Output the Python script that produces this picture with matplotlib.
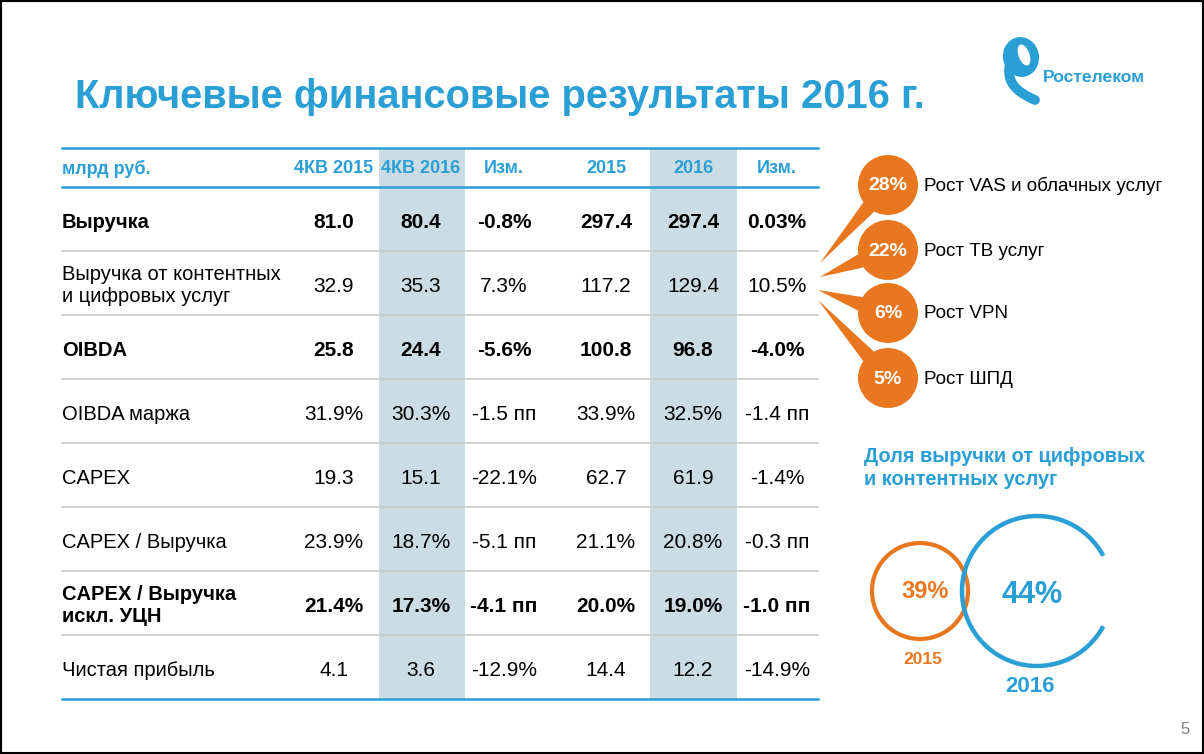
import numpy as np
import matplotlib
matplotlib.use('Agg')
import matplotlib.pyplot as plt
from matplotlib.patches import Circle, Arc, Polygon, Rectangle, Ellipse

plt.rcParams['font.family'] = ['Liberation Sans', 'DejaVu Sans']

# table data
row_labels = ['Выручка', 'Выручка от контентных\nи цифровых услуг', 'OIBDA', 'OIBDA маржа',
              'CAPEX', 'CAPEX / Выручка', 'CAPEX / Выручка\nискл. УЦН', 'Чистая прибыль']
bold_rows = [True, False, True, False, False, False, True, False]
col_headers = ['4КВ 2015', '4КВ 2016', 'Изм.', '2015', '2016', 'Изм.']
q4_2015 = ['81.0', '32.9', '25.8', '31.9%', '19.3', '23.9%', '21.4%', '4.1']
q4_2016 = ['80.4', '35.3', '24.4', '30.3%', '15.1', '18.7%', '17.3%', '3.6']
q4_change = ['-0.8%', '7.3%', '-5.6%', '-1.5 пп', '-22.1%', '-5.1 пп', '-4.1 пп', '-12.9%']
fy_2015 = ['297.4', '117.2', '100.8', '33.9%', '62.7', '21.1%', '20.0%', '14.4']
fy_2016 = ['297.4', '129.4', '96.8', '32.5%', '61.9', '20.8%', '19.0%', '12.2']
fy_change = ['0.03%', '10.5%', '-4.0%', '-1.4 пп', '-1.4%', '-0.3 пп', '-1.0 пп', '-14.9%']

# growth bubbles
growth_pct = [28, 22, 6, 5]
growth_labels = ['Рост VAS и облачных услуг', 'Рост ТВ услуг', 'Рост VPN', 'Рост ШПД']

# share of digital revenue
share_years = [2015, 2016]
share_pct = [39, 44]

BLUE = '#2a9fd6'
ORANGE = '#e8771f'
SHADE = '#cbdce4'
GRAY_LINE = '#c8c8c8'

fig = plt.figure(figsize=(12.04, 7.54), dpi=100)
ax = fig.add_axes([0, 0, 1, 1])
ax.set_xlim(0, 1204)
ax.set_ylim(754, 0)
ax.axis('off')

# frame
ax.add_patch(Rectangle((1, 1), 1202, 752, fill=False, ec='black', lw=1.5))

# title
ax.text(75, 97, 'Ключевые финансовые результаты 2016 г.', color=BLUE, fontsize=28.7,
        fontweight='bold', ha='left', va='center')

# logo
ax.add_patch(Ellipse((1021, 57), 36, 40, angle=-10, color=BLUE, lw=0))
ax.add_patch(Ellipse((1024, 55), 11, 22, angle=-20, color='white', lw=0))
t = np.linspace(0, 1, 30)
ax.plot(1009 + 26 * t ** 1.4, 68 + 32 * np.sqrt(t), color=BLUE, lw=7, solid_capstyle='round')
ax.text(1043, 77, 'Ростелеком', color=BLUE, fontsize=12.6, fontweight='bold', ha='left', va='center')

# table
col_x = [334, 421, 504, 606, 693, 777]
shade_cols = [(379, 465), (650, 737)]
table_top, header_bottom, table_bottom = 148, 187, 699
row_h = (table_bottom - header_bottom) / len(row_labels)

for x0, x1 in shade_cols:
    ax.add_patch(Rectangle((x0, table_top), x1 - x0, table_bottom - table_top, color=SHADE, lw=0))

ax.plot([62, 818], [table_top, table_top], color=BLUE, lw=1.8)
ax.plot([62, 818], [header_bottom, header_bottom], color=BLUE, lw=1.8)
ax.plot([62, 818], [table_bottom, table_bottom], color=BLUE, lw=1.8)
for i in range(1, len(row_labels)):
    y = header_bottom + i * row_h
    ax.plot([62, 818], [y, y], color=GRAY_LINE, lw=1.2)

hy = (table_top + header_bottom) / 2 + 1
ax.text(62, hy, 'млрд руб.', color=BLUE, fontsize=13, fontweight='bold', ha='left', va='center')
for x, h in zip(col_x, col_headers):
    ax.text(x, hy, h, color=BLUE, fontsize=13, fontweight='bold', ha='center', va='center')

columns = [q4_2015, q4_2016, q4_change, fy_2015, fy_2016, fy_change]
for i, label in enumerate(row_labels):
    y = header_bottom + (i + 0.5) * row_h + 3
    w = 'bold' if bold_rows[i] else 'normal'
    ax.text(62, y, label, color='black', fontsize=14.5, fontweight=w, ha='left', va='center',
            linespacing=1.2)
    for x, col in zip(col_x, columns):
        ax.text(x, y, col[i], color='black', fontsize=15, fontweight=w, ha='center', va='center')

# growth bubbles
bubble_y = [185, 250, 313, 378]
tips = [(820, 263), (820, 277), (818, 290), (818, 300)]
bx, br = 888, 30
for yc, (tx, ty), pct, lab in zip(bubble_y, tips, growth_pct, growth_labels):
    ang = np.arctan2(ty - yc, tx - bx)
    a1, a2 = ang + 0.24, ang - 0.24
    tail = [(tx, ty), (bx + br * np.cos(a1), yc + br * np.sin(a1)),
            (bx + br * np.cos(a2), yc + br * np.sin(a2))]
    ax.add_patch(Polygon(tail, closed=True, color=ORANGE, lw=0))
    ax.add_patch(Circle((bx, yc), br, color=ORANGE, lw=0))
    ax.text(bx, yc + 1, f'{pct}%', color='white', fontsize=14, fontweight='bold', ha='center', va='center')
    ax.text(924, yc + 1, lab, color='black', fontsize=13.6, ha='left', va='center')

# share of digital revenue
ax.text(864, 468, 'Доля выручки от цифровых\nи контентных услуг', color=BLUE, fontsize=14.4,
        fontweight='bold', ha='left', va='center', linespacing=1.25)

ax.add_patch(Circle((920, 591), 48, fill=False, ec=ORANGE, lw=3))
ax.add_patch(Arc((1037, 591), 150, 150, theta1=-332, theta2=-28, ec=BLUE, lw=3.2))
ax.text(925, 591, f'{share_pct[0]}%', color=ORANGE, fontsize=17, fontweight='bold', ha='center', va='center')
ax.text(1032, 595, f'{share_pct[1]}%', color=BLUE, fontsize=22, fontweight='bold', ha='center', va='center')
ax.text(923, 660, str(share_years[0]), color=ORANGE, fontsize=12.5, fontweight='bold', ha='center', va='center')
ax.text(1030, 686, str(share_years[1]), color=BLUE, fontsize=16, fontweight='bold', ha='center', va='center')

# page number
ax.text(1185, 730, '5', color='#808080', fontsize=12, ha='center', va='center')

fig.savefig('out.png', dpi=100)
